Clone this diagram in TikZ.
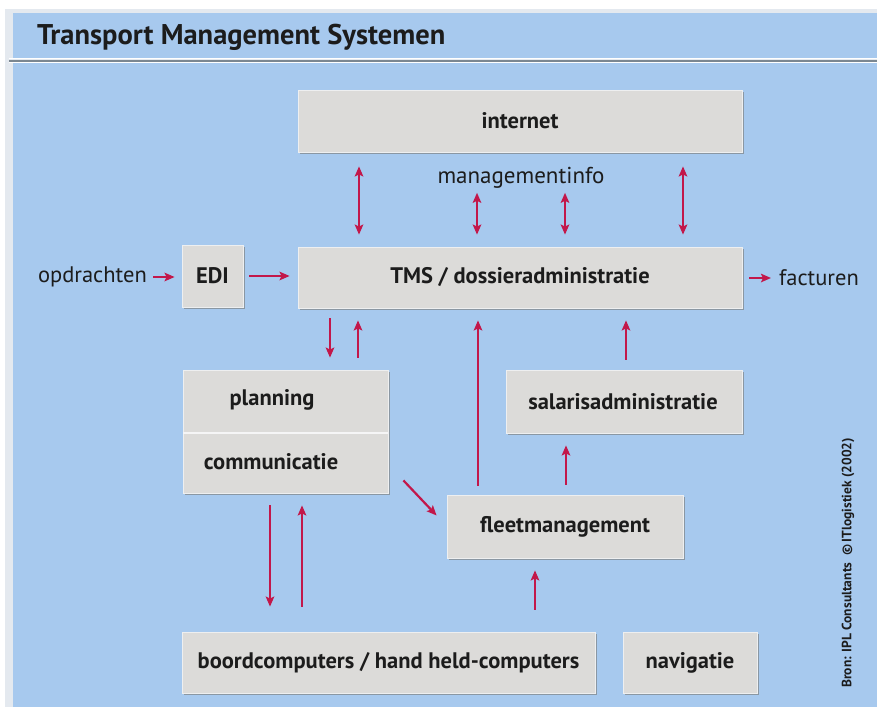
\documentclass[tikz,border=0pt]{standalone}
\usepackage{fontspec}
\setmainfont{PT Sans}
\usetikzlibrary{arrows.meta,calc,shadows}

\definecolor{panelblue}{HTML}{A7C9EE}
\definecolor{framegrey}{HTML}{E4E9EF}
\definecolor{rulegrey}{HTML}{7B8791}
\definecolor{boxgrey}{HTML}{DCDBD9}
\definecolor{boxedge}{HTML}{EEEFF0}
\definecolor{shadegrey}{HTML}{8A97A3}
\definecolor{arrowred}{HTML}{C2174A}
\definecolor{inkblack}{HTML}{1C1C1C}

\tikzset{
  boxfont/.style={text=inkblack, font=\fontsize{22.5}{25}\selectfont\bfseries},
  box/.style={rectangle, inner sep=0pt, fill=boxgrey, draw=boxedge, line width=0.8pt, boxfont,
    drop shadow={shadow xshift=1.6pt, shadow yshift=-1.6pt, fill=shadegrey, opacity=1}},
  boxtext/.style={inner sep=0pt, boxfont},
  label/.style={inner sep=0pt, text=inkblack, font=\fontsize{22.5}{26}\selectfont},
  arr/.style={draw=arrowred, line width=2.2pt, -{Stealth[length=10pt,width=8.5pt,inset=2pt]}},
  dbl/.style={draw=arrowred, line width=2.2pt,
    {Stealth[length=10pt,width=8.5pt,inset=2pt]}-{Stealth[length=10pt,width=8.5pt,inset=2pt]}},
}

\begin{document}
\begin{tikzpicture}[x=1pt,y=-1pt]
  % page and framed panel
  \fill[white] (0,0) rectangle (877,707);
  \useasboundingbox (0,0) rectangle (877,707);
  \fill[framegrey] (5,9) rectangle (877,707);
  \fill[panelblue] (13,13) rectangle (877,58);
  \fill[panelblue] (13,63) rectangle (877,707);
  \draw[white, line width=1pt] (9,58.6) -- (877,58.6);
  \draw[rulegrey, line width=2.2pt] (9,60.6) -- (877,60.6);
  \draw[white, line width=0.8pt] (9,62.6) -- (877,62.6);

  % heading
  \node[anchor=west, inner sep=0pt, text=inkblack,
        font=\fontsize{28.5}{32}\selectfont\bfseries] (title) at (37,37) {Transport Management Systemen};

  % boxes
  \node[box, minimum width=444pt, minimum height=62pt] (inet) at (520,121) {internet};
  \node[box, minimum width=444pt, minimum height=61pt] (tms) at (520,277.5) {TMS / dossieradministratie};
  \node[box, minimum width=61pt, minimum height=62pt] (edi) at (212.5,276) {EDI};
  \node[box, minimum width=205pt, minimum height=123pt] (plan) at (285.5,431.5) {};
  \node[box, minimum width=236pt, minimum height=63pt] (salaris) at (624,401.5) {};
  \node[box, minimum width=236pt, minimum height=63pt] (fleet) at (565,526.5) {fleetmanagement};
  \node[box, minimum width=413pt, minimum height=61pt] (boord) at (388.5,662.5) {boordcomputers / hand held-computers};
  \node[box, minimum width=134pt, minimum height=61pt] (navi) at (690,662.5) {navigatie};

  % split of the planning / communicatie box
  \coordinate (split) at (0,433);
  \draw[boxedge!60!white, line width=2pt] ([xshift=0.5pt]plan.west |- split) -- ([xshift=-0.5pt]plan.east |- split);
  \node[boxtext] (planning) at (272,400) {planning};
  \node[boxtext] (comm) at (271,462) {communicatie};
  \node[boxtext] (sal) at (623,402) {salarisadministratie};

  % free labels
  \node[label, font=\fontsize{23}{26}\selectfont] (info) at (521,178) {managementinfo};
  \node[label, anchor=east] (opdr) at (147,277) {opdrachten};
  \node[label, anchor=west] (fact) at (779,278) {facturen};
  \node[inner sep=0pt, text=inkblack, rotate=90,
        font=\fontsize{13.5}{15}\selectfont\bfseries] (bron) at (848,563)
        {Bron: IPL Consultants \ \textcopyright\,ITlogistiek (2002)};

  % arrow columns
  \coordinate (cA) at (359,0);
  \coordinate (cB) at (477,0);
  \coordinate (cC) at (565,0);
  \coordinate (cD) at (683,0);
  \coordinate (cE) at (330,0);
  \coordinate (cF) at (358,0);
  \coordinate (cG) at (478,0);
  \coordinate (cH) at (626,0);
  \coordinate (cI) at (566,0);
  \coordinate (cJ) at (535,0);
  \coordinate (cK) at (270,0);
  \coordinate (cL) at (302,0);

  % internet <-> TMS
  \draw[dbl, shorten <=14pt, shorten >=12pt] (inet.south -| cA) -- (tms.north -| cA);
  \draw[dbl, shorten <=14pt, shorten >=12pt] (inet.south -| cD) -- (tms.north -| cD);
  \draw[dbl, shorten <=4pt, shorten >=12pt] (info.south -| cB) -- (tms.north -| cB);
  \draw[dbl, shorten <=4pt, shorten >=12pt] (info.south -| cC) -- (tms.north -| cC);

  % input and output
  \draw[arr, shorten <=6pt, shorten >=7pt] (opdr.east) -- (opdr.east -| edi.west);
  \draw[arr, shorten <=6pt, shorten >=8pt] (edi.east) -- (edi.east -| tms.west);
  \draw[arr, shorten <=7pt, shorten >=8pt] (tms.east |- fact.west) -- (fact.west);

  % TMS <-> planning
  \draw[arr, shorten <=10pt, shorten >=12pt] (tms.south -| cE) -- (plan.north -| cE);
  \draw[arr, shorten <=12pt, shorten >=12pt] (plan.north -| cF) -- (tms.south -| cF);

  % into TMS from below
  \draw[arr, shorten <=9pt, shorten >=12pt] (fleet.north -| cG) -- (tms.south -| cG);
  \draw[arr, shorten <=10pt, shorten >=12pt] (salaris.north -| cH) -- (tms.south -| cH);
  \draw[arr, shorten <=10pt, shorten >=12pt] (fleet.north -| cI) -- (salaris.south -| cI);
  \draw[arr, shorten <=22pt, shorten >=12pt] (boord.north -| cJ) -- (fleet.south -| cJ);

  % planning -> fleet
  \draw[arr] ($(plan.south east)+(15,-13)$) -- ($(fleet.west)+(-10,-11)$);

  % planning <-> boordcomputers
  \draw[arr, shorten <=12pt, shorten >=25pt] (plan.south -| cK) -- (boord.north -| cK);
  \draw[arr, shorten <=25pt, shorten >=12pt] (boord.north -| cL) -- (plan.south -| cL);
\end{tikzpicture}
\end{document}
